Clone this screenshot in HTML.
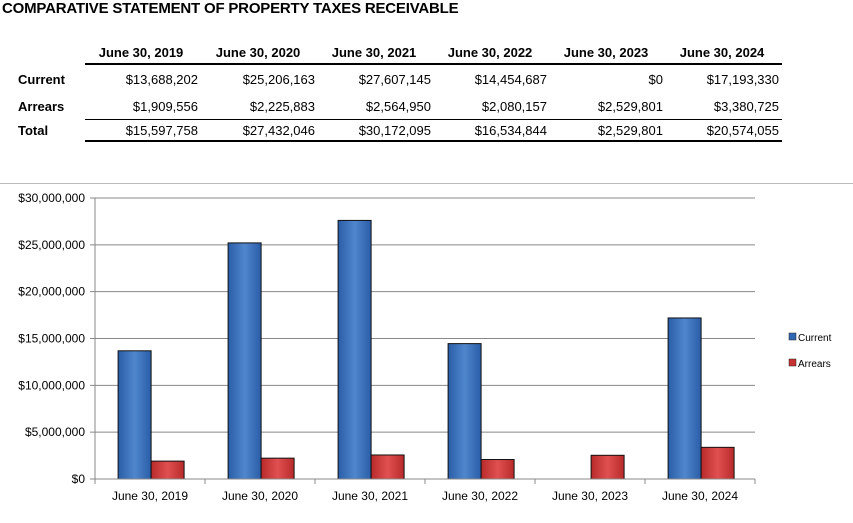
<!DOCTYPE html>
<html><head><meta charset="utf-8"><style>
body{margin:0;width:853px;height:523px;background:#fff;font-family:"Liberation Sans",sans-serif;overflow:hidden;position:relative}
.t{position:absolute;white-space:nowrap;color:#000}
</style></head><body>
<div class="t" style="left:2px;top:0px;font-size:15px;font-weight:bold;letter-spacing:-0.2px">COMPARATIVE STATEMENT OF PROPERTY TAXES RECEIVABLE</div>
<div id="tbl"></div>
<div style="position:absolute;left:0;top:183px;width:853px;height:1px;background:#bbb"></div>
<svg id="chart" width="853" height="523" style="position:absolute;left:0;top:0">
<defs>
<linearGradient id="gb" x1="0" x2="1"><stop offset="0" stop-color="#2a5ea8"/><stop offset="0.5" stop-color="#4f86cc"/><stop offset="1" stop-color="#2a5ea8"/></linearGradient>
<linearGradient id="gr" x1="0" x2="1"><stop offset="0" stop-color="#b82a2a"/><stop offset="0.5" stop-color="#e05050"/><stop offset="1" stop-color="#b82a2a"/></linearGradient>
</defs>
</svg>
<script>
const categories=["June 30, 2019","June 30, 2020","June 30, 2021","June 30, 2022","June 30, 2023","June 30, 2024"];
const current=[13688202,25206163,27607145,14454687,0,17193330];
const arrears=[1909556,2225883,2564950,2080157,2529801,3380725];
const totals=[15597758,27432046,30172095,16534844,2529801,20574055];
const yTicks=[0,5000000,10000000,15000000,20000000,25000000,30000000];
const fmt=v=>"$"+v.toLocaleString("en-US");
// table
const tbl=document.getElementById('tbl');
function txt(s,x,y,opt){const d=document.createElement('div');d.className='t';d.textContent=s;d.style.top=y+'px';d.style.fontSize='13px';
if(opt.bold)d.style.fontWeight='bold';
if(opt.right!=null){d.style.right=(853-opt.right)+'px';}else if(opt.center!=null){d.style.left=(opt.center-60)+'px';d.style.width='120px';d.style.textAlign='center';}else d.style.left=x+'px';


tbl.appendChild(d);}
const rights=[198,315,431,547,663,779];
categories.forEach((c,i)=>txt(c,0,45,{bold:1,center:rights[i]-57,name:'column-header'}));
txt('Current',18,72,{bold:1,name:'row-label'});txt('Arrears',18,99,{bold:1,name:'row-label'});txt('Total',18,123,{bold:1,name:'row-label'});
[current,arrears,totals].forEach((arr,r)=>arr.forEach((v,i)=>txt(fmt(v),0,[72,99,123][r],{right:rights[i],name:'table-cell'})));
function hl(y,h){const d=document.createElement('div');d.style.cssText=`position:absolute;left:85px;width:697px;top:${y}px;height:${h}px;background:#000`;


tbl.appendChild(d);}
hl(63,2);hl(119,1);hl(140,2);
// chart
const svg=document.getElementById('chart');const NS='http://www.w3.org/2000/svg';
const L=95,R=755,T=198,B=479,max=30000000;
const y=v=>B-(v/max)*(B-T);const cw=(R-L)/categories.length;const x=i=>L+i*cw;
function el(tag,a,name){const e=document.createElementNS(NS,tag);for(const k in a)e.setAttribute(k,a[k]);


svg.appendChild(e);return e;}
yTicks.forEach(v=>{el('line',{x1:L-5,x2:R,y1:y(v),y2:y(v),stroke:'#888','stroke-width':1},'gridline');
const t=el('text',{x:L-10,y:y(v)+4,'text-anchor':'end','font-size':'12','font-family':'Liberation Sans'},'y-tick-label');t.textContent=fmt(v);});
el('line',{x1:L,x2:L,y1:T,y2:B,stroke:'#888'},'y-axis');
categories.forEach((c,i)=>{el('line',{x1:x(i),x2:x(i),y1:B,y2:B+5,stroke:'#888'},'x-tick');
const t=el('text',{x:x(i)+cw/2,y:B+21,'text-anchor':'middle','font-size':'12','font-family':'Liberation Sans'},'x-tick-label');t.textContent=c;});
el('line',{x1:R,x2:R,y1:B,y2:B+5,stroke:'#888'},'x-tick');
const bw=cw*0.3;
categories.forEach((c,i)=>{
 if(current[i]>0)el('rect',{x:x(i)+cw*0.21,y:y(current[i]),width:bw,height:B-y(current[i]),fill:'url(#gb)',stroke:'#111','stroke-width':1},'bar-current');
 el('rect',{x:x(i)+cw*0.21+bw,y:y(arrears[i]),width:bw,height:B-y(arrears[i]),fill:'url(#gr)',stroke:'#111','stroke-width':1},'bar-arrears');
});
el('line',{x1:L,x2:R,y1:B,y2:B,stroke:'#888'},'x-axis');
[['Current','#2f67b5',337],['Arrears','#c83232',363]].forEach(([n,c,yy])=>{
 el('rect',{x:789,y:yy-4,width:7,height:7,fill:c,stroke:'#222','stroke-width':0.5},'legend-swatch');
 const t=el('text',{x:798,y:yy+4,'font-size':'10','font-family':'Liberation Sans'},'legend-entry');t.textContent=n;});
</script>
</body></html>
